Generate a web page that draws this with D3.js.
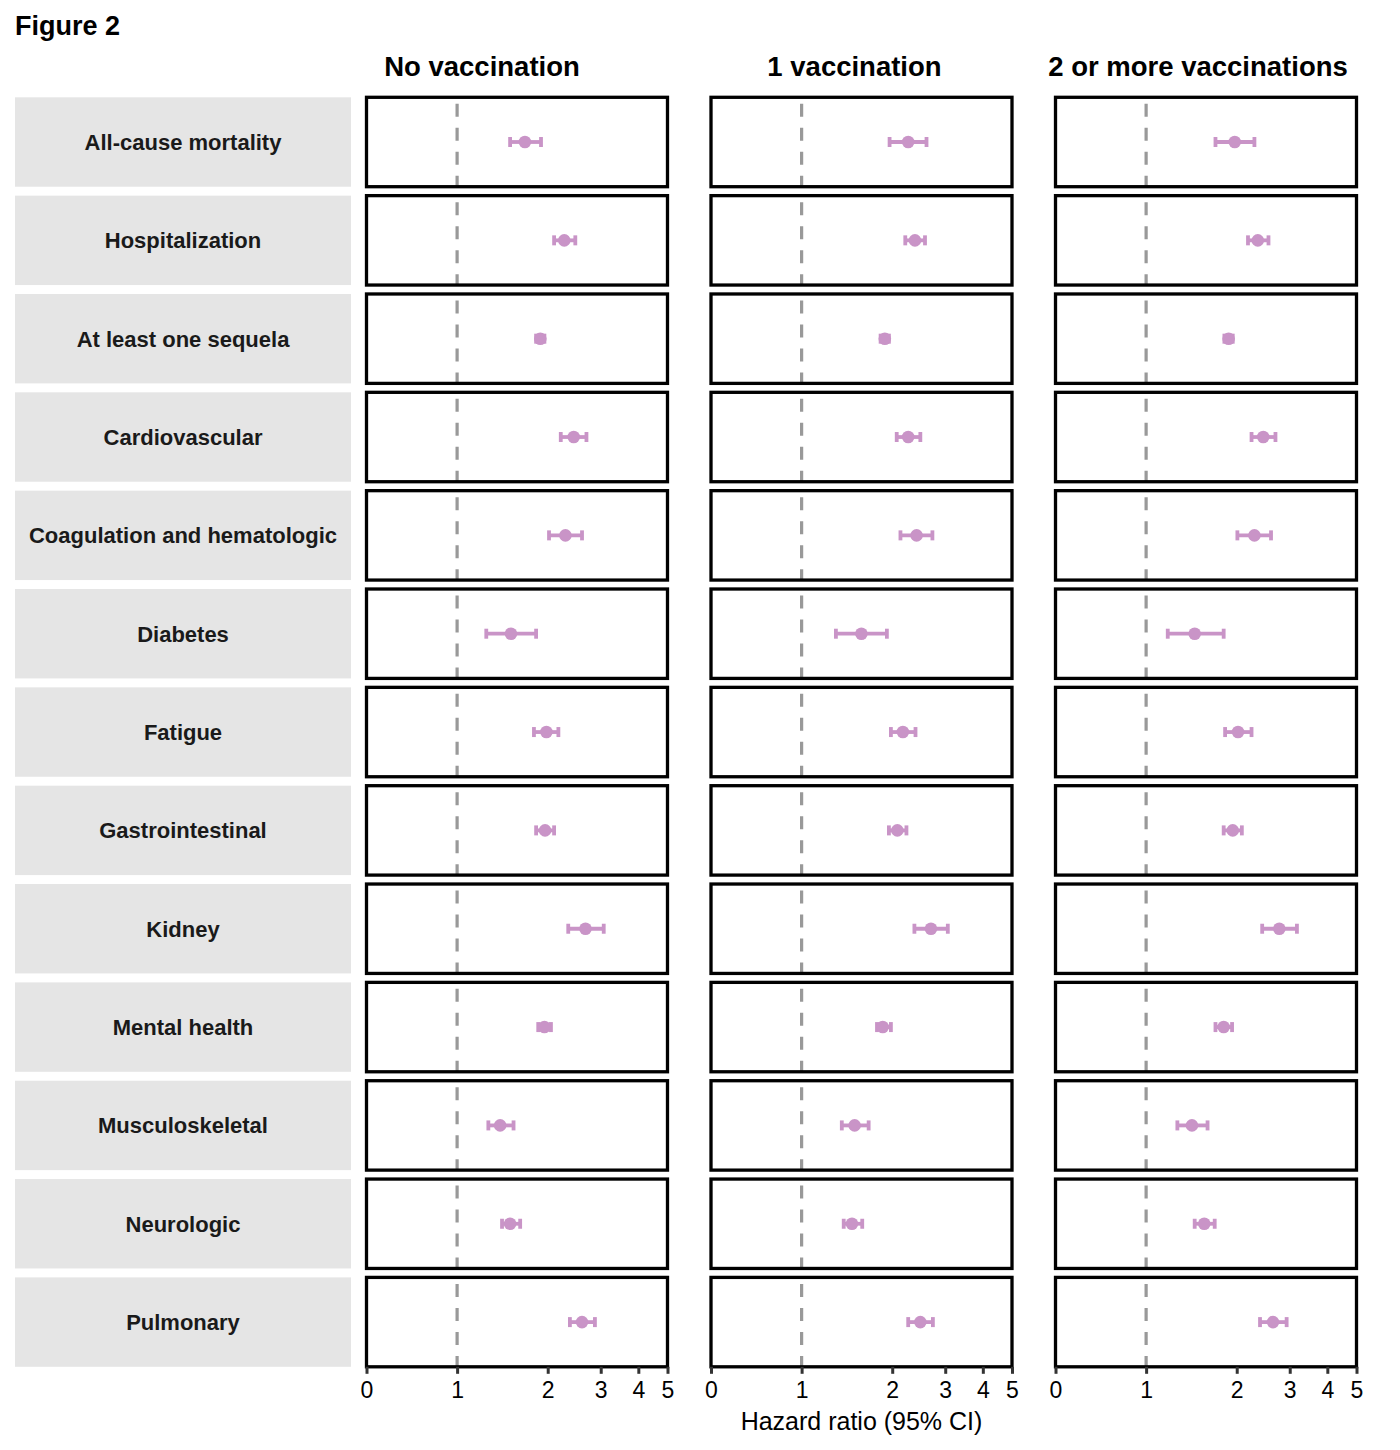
<!DOCTYPE html>
<html>
<head>
<meta charset="utf-8">
<script src="https://cdn.jsdelivr.net/npm/d3@7"></script>
<style>
  body { margin: 0; background: #fff; }
  text { font-family: "Liberation Sans", Arial, sans-serif; }
</style>
</head>
<body>
<script>
// outcomes (rows) and vaccination groups (columns)
const outcomes = [
  "All-cause mortality", "Hospitalization", "At least one sequela",
  "Cardiovascular", "Coagulation and hematologic", "Diabetes", "Fatigue",
  "Gastrointestinal", "Kidney", "Mental health", "Musculoskeletal",
  "Neurologic", "Pulmonary"
];
const groups = ["No vaccination", "1 vaccination", "2 or more vaccinations"];

// hazard ratios with 95% CI, one array per group
const hrNone = [1.68, 2.27, 1.89, 2.44, 2.29, 1.51, 1.98, 1.96, 2.67, 1.95, 1.39, 1.50, 2.60];
const loNone = [1.50, 2.10, 1.83, 2.21, 2.02, 1.25, 1.80, 1.83, 2.34, 1.86, 1.27, 1.41, 2.37];
const hiNone = [1.90, 2.47, 1.95, 2.69, 2.60, 1.83, 2.17, 2.10, 3.07, 2.05, 1.54, 1.62, 2.87];

const hrOne = [2.26, 2.38, 1.89, 2.26, 2.41, 1.58, 2.17, 2.08, 2.69, 1.86, 1.50, 1.47, 2.48];
const loOne = [1.96, 2.21, 1.83, 2.07, 2.13, 1.30, 1.98, 1.95, 2.37, 1.78, 1.36, 1.38, 2.26];
const hiOne = [2.60, 2.57, 1.95, 2.48, 2.72, 1.92, 2.39, 2.23, 3.06, 1.98, 1.67, 1.59, 2.73];

const hrTwo = [1.97, 2.35, 1.88, 2.45, 2.29, 1.45, 2.02, 1.94, 2.77, 1.81, 1.42, 1.56, 2.64];
const loTwo = [1.70, 2.18, 1.82, 2.24, 2.01, 1.18, 1.83, 1.81, 2.43, 1.70, 1.27, 1.45, 2.39];
const hiTwo = [2.29, 2.55, 1.94, 2.69, 2.60, 1.81, 2.24, 2.08, 3.17, 1.93, 1.60, 1.69, 2.93];

// x axis ticks (log scale, lowest break printed as "0")
const tickValues = [0.5, 1, 2, 3, 4, 5];
const tickLabels = ["0", "1", "2", "3", "4", "5"];

const series = [
  { hr: hrNone, lo: loNone, hi: hiNone },
  { hr: hrOne, lo: loOne, hi: hiOne },
  { hr: hrTwo, lo: loTwo, hi: hiTwo }
];

const width = 1400, height = 1450;
const pointColor = "#c994c7";
// column titles sit a little left of the panel centres in the original
const titleShift = [-35, -7, -8];

const svg = d3.select("body").append("svg")
  .attr("width", width)
  .attr("height", height);

// layout scales
const col = d3.scaleBand().domain(groups).range([366.5, 1356.5]).paddingInner(0.1263);
const row = d3.scaleBand().domain(outcomes).range([97.3, 1366.8]).paddingInner(0.0909);
const x = d3.scaleLog().domain([0.5, 5]).range([0, col.bandwidth()]);

svg.append("text")
  .attr("x", 15).attr("y", 35)
  .style("font-size", "27px").style("font-weight", "bold")
  .text("Figure 2");

// strip labels on the left
const strip = svg.selectAll("g.strip").data(outcomes).join("g")
  .attr("class", "strip")
  .attr("transform", d => `translate(15,${row(d)})`);
strip.append("rect")
  .attr("width", 336).attr("height", row.bandwidth())
  .attr("fill", "#e5e5e5");
strip.append("text")
  .attr("x", 168).attr("y", row.bandwidth() / 2)
  .attr("dy", "0.36em")
  .attr("text-anchor", "middle")
  .attr("fill", "#1a1a1a")
  .style("font-size", "22px").style("font-weight", "bold")
  .text(d => d);

groups.forEach((g, gi) => {
  const cx = col(g);
  const colG = svg.append("g").attr("transform", `translate(${cx},0)`);

  colG.append("text")
    .attr("x", col.bandwidth() / 2 + titleShift[gi]).attr("y", 76)
    .attr("text-anchor", "middle")
    .style("font-size", "27.5px").style("font-weight", "bold")
    .text(g);

  const s = series[gi];
  const panel = colG.selectAll("g.panel").data(outcomes).join("g")
    .attr("class", "panel")
    .attr("transform", d => `translate(0,${row(d)})`);

  panel.append("rect")
    .attr("width", col.bandwidth()).attr("height", row.bandwidth())
    .attr("fill", "#fff");

  panel.append("line")
    .attr("x1", x(1)).attr("x2", x(1))
    .attr("y1", 6.5).attr("y2", row.bandwidth())
    .attr("stroke", "#999999")
    .attr("stroke-width", 3.2)
    .attr("stroke-dasharray", "13,11");

  const cy = row.bandwidth() / 2;
  panel.append("line")
    .attr("x1", (d, i) => x(s.lo[i])).attr("x2", (d, i) => x(s.hi[i]))
    .attr("y1", cy).attr("y2", cy)
    .attr("stroke", pointColor).attr("stroke-width", 3.8);
  panel.append("line")
    .attr("x1", (d, i) => x(s.lo[i])).attr("x2", (d, i) => x(s.lo[i]))
    .attr("y1", cy - 5).attr("y2", cy + 5)
    .attr("stroke", pointColor).attr("stroke-width", 3.8);
  panel.append("line")
    .attr("x1", (d, i) => x(s.hi[i])).attr("x2", (d, i) => x(s.hi[i]))
    .attr("y1", cy - 5).attr("y2", cy + 5)
    .attr("stroke", pointColor).attr("stroke-width", 3.8);
  panel.append("circle")
    .attr("cx", (d, i) => x(s.hr[i])).attr("cy", cy)
    .attr("r", 6.3)
    .attr("fill", pointColor);

  panel.append("rect")
    .attr("width", col.bandwidth()).attr("height", row.bandwidth())
    .attr("fill", "none")
    .attr("stroke", "#000")
    .attr("stroke-width", 3.3);

  // bottom axis under the last row
  const axis = d3.axisBottom(x)
    .tickValues(tickValues)
    .tickFormat((d, i) => tickLabels[i])
    .tickSize(7)
    .tickPadding(8);
  const ax = colG.append("g")
    .attr("transform", `translate(0,${row(outcomes[outcomes.length - 1]) + row.bandwidth()})`)
    .call(axis);
  ax.select(".domain").remove();
  ax.selectAll(".tick line").attr("stroke", "#333333").attr("stroke-width", 3);
  ax.selectAll(".tick text")
    .attr("fill", "#000")
    .style("font-size", "23px")
    .style("font-family", "'Liberation Sans', Arial, sans-serif");
});

svg.append("text")
  .attr("x", col("1 vaccination") + col.bandwidth() / 2)
  .attr("y", 1430)
  .attr("text-anchor", "middle")
  .style("font-size", "25px")
  .text("Hazard ratio (95% CI)");
</script>
</body>
</html>
